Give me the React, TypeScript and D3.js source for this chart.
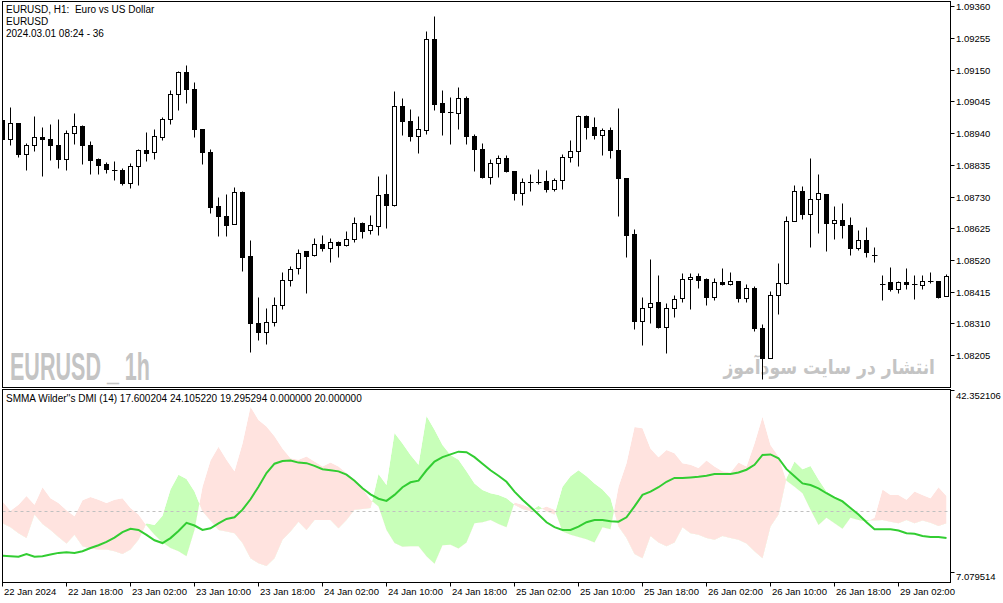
import { useEffect } from 'react';
import * as d3 from 'd3';

// EURUSD H1 candles, 22 Jan 10:00 .. 29 Jan 08:00
const opens = [
  1.08982, 1.08921, 1.08975, 1.08872, 1.08901, 1.08928, 1.08921, 1.08901, 1.08855, 1.08941,
  1.08964, 1.08901, 1.08854, 1.08839, 1.08819, 1.08819, 1.08776, 1.08832, 1.08885, 1.08878,
  1.08928, 1.08987, 1.09070, 1.09143, 1.09087, 1.08954, 1.08878, 1.08700, 1.08666, 1.08640,
  1.08746, 1.08532, 1.08312, 1.08281, 1.08314, 1.08372, 1.08455, 1.08494, 1.08551, 1.08536,
  1.08574, 1.08561, 1.08580, 1.08570, 1.08590, 1.08643, 1.08620, 1.08633, 1.08739, 1.08703,
  1.09030, 1.08981, 1.08931, 1.08951, 1.09252, 1.09040, 1.09011, 1.09007, 1.09057, 1.08930,
  1.08888, 1.08795, 1.08842, 1.08858, 1.08815, 1.08741, 1.08778, 1.08778, 1.08782, 1.08756,
  1.08786, 1.08862, 1.08882, 1.08997, 1.08961, 1.08934, 1.08951, 1.08885, 1.08792, 1.08605,
  1.08318, 1.08364, 1.08382, 1.08298, 1.08361, 1.08394, 1.08457, 1.08468, 1.08456, 1.08399,
  1.08446, 1.08440, 1.08451, 1.08394, 1.08428, 1.08296, 1.08196, 1.08405, 1.08443, 1.08650,
  1.08749, 1.08672, 1.08723, 1.08740, 1.08643, 1.08651, 1.08637, 1.08559, 1.08585, 1.08537,
  1.08440, 1.08448, 1.08425, 1.08448, 1.08441, 1.08438, 1.08451, 1.08451, 1.08402,
];
const highs = [
  1.08985, 1.09027, 1.08975, 1.08908, 1.08998, 1.08959, 1.08969, 1.08988, 1.08949, 1.09005,
  1.08968, 1.08915, 1.08858, 1.08845, 1.08848, 1.08825, 1.08842, 1.08888, 1.08945, 1.08955,
  1.08992, 1.09083, 1.09146, 1.09167, 1.09110, 1.08954, 1.08886, 1.08727, 1.08737, 1.08763,
  1.08748, 1.08585, 1.08399, 1.08360, 1.08396, 1.08482, 1.08501, 1.08558, 1.08551, 1.08594,
  1.08604, 1.08594, 1.08584, 1.08617, 1.08663, 1.08647, 1.08670, 1.08799, 1.08805, 1.09080,
  1.09055, 1.09021, 1.08998, 1.09279, 1.09329, 1.09082, 1.09060, 1.09093, 1.09064, 1.08938,
  1.08908, 1.08855, 1.08868, 1.08868, 1.08816, 1.08792, 1.08806, 1.08822, 1.08819, 1.08792,
  1.08872, 1.08918, 1.09001, 1.09001, 1.08992, 1.08958, 1.08961, 1.09024, 1.08793, 1.08621,
  1.08399, 1.08522, 1.08469, 1.08378, 1.08405, 1.08478, 1.08478, 1.08478, 1.08462, 1.08462,
  1.08492, 1.08479, 1.08451, 1.08440, 1.08435, 1.08308, 1.08418, 1.08510, 1.08666, 1.08767,
  1.08764, 1.08859, 1.08806, 1.08740, 1.08700, 1.08710, 1.08662, 1.08620, 1.08628, 1.08564,
  1.08471, 1.08496, 1.08451, 1.08492, 1.08471, 1.08470, 1.08481, 1.08451, 1.08475,
];
const lows = [
  1.08916, 1.08900, 1.08860, 1.08817, 1.08882, 1.08797, 1.08850, 1.08824, 1.08817, 1.08905,
  1.08837, 1.08804, 1.08804, 1.08809, 1.08784, 1.08769, 1.08759, 1.08768, 1.08847, 1.08855,
  1.08918, 1.08971, 1.09016, 1.09040, 1.08927, 1.08837, 1.08675, 1.08601, 1.08601, 1.08638,
  1.08483, 1.08215, 1.08255, 1.08241, 1.08301, 1.08357, 1.08433, 1.08473, 1.08410, 1.08533,
  1.08549, 1.08513, 1.08529, 1.08567, 1.08580, 1.08592, 1.08607, 1.08602, 1.08625, 1.08698,
  1.08933, 1.08913, 1.08874, 1.08936, 1.09017, 1.08933, 1.08903, 1.08953, 1.08903, 1.08814,
  1.08791, 1.08772, 1.08795, 1.08811, 1.08720, 1.08701, 1.08747, 1.08771, 1.08745, 1.08748,
  1.08754, 1.08844, 1.08831, 1.08921, 1.08921, 1.08868, 1.08858, 1.08665, 1.08529, 1.08291,
  1.08238, 1.08311, 1.08294, 1.08212, 1.08331, 1.08380, 1.08357, 1.08427, 1.08372, 1.08388,
  1.08438, 1.08437, 1.08380, 1.08380, 1.08284, 1.08127, 1.08195, 1.08342, 1.08442, 1.08648,
  1.08655, 1.08562, 1.08609, 1.08549, 1.08590, 1.08592, 1.08536, 1.08553, 1.08529, 1.08513,
  1.08388, 1.08418, 1.08412, 1.08425, 1.08392, 1.08425, 1.08445, 1.08395, 1.08401,
];
const closes = [
  1.08919, 1.08974, 1.08872, 1.08901, 1.08928, 1.08921, 1.08901, 1.08855, 1.08941, 1.08964,
  1.08901, 1.08852, 1.08835, 1.08822, 1.08818, 1.08776, 1.08832, 1.08885, 1.08875, 1.08931,
  1.08987, 1.09070, 1.09143, 1.09087, 1.08954, 1.08877, 1.08695, 1.08665, 1.08635, 1.08746,
  1.08529, 1.08311, 1.08281, 1.08316, 1.08372, 1.08455, 1.08491, 1.08544, 1.08533, 1.08574,
  1.08559, 1.08580, 1.08570, 1.08590, 1.08643, 1.08617, 1.08637, 1.08736, 1.08701, 1.09030,
  1.08979, 1.08930, 1.08954, 1.09252, 1.09037, 1.09011, 1.09007, 1.09057, 1.08931, 1.08888,
  1.08794, 1.08842, 1.08859, 1.08814, 1.08741, 1.08779, 1.08779, 1.08774, 1.08756, 1.08786,
  1.08862, 1.08882, 1.08997, 1.08961, 1.08934, 1.08951, 1.08884, 1.08792, 1.08602, 1.08318,
  1.08362, 1.08378, 1.08298, 1.08362, 1.08392, 1.08458, 1.08465, 1.08455, 1.08399, 1.08446,
  1.08440, 1.08451, 1.08394, 1.08428, 1.08296, 1.08196, 1.08405, 1.08443, 1.08650, 1.08749,
  1.08672, 1.08723, 1.08743, 1.08643, 1.08651, 1.08635, 1.08559, 1.08585, 1.08546, 1.08534,
  1.08441, 1.08423, 1.08448, 1.08441, 1.08441, 1.08451, 1.08447, 1.08398, 1.08466,
];

// Wilder's DMI (14)
const adx = [
  11.9, 11.8, 11.7, 12.2, 11.7, 11.8, 12.1, 12.4, 12.5, 12.4,
  12.7, 13.3, 13.8, 14.4, 15.2, 16.2, 16.8, 16.6, 15.7, 14.7,
  14.2, 15.1, 16.4, 17.9, 17.4, 16.6, 16.9, 17.8, 18.6, 18.9,
  20.3, 22.2, 24.5, 27.0, 28.7, 29.2, 29.3, 28.9, 28.8, 28.3,
  27.7, 27.5, 27.3, 26.7, 25.6, 24.2, 23.1, 22.3, 21.9, 23.0,
  24.4, 25.3, 25.6, 27.5, 29.1, 29.9, 30.4, 30.9, 30.8, 29.9,
  28.7, 27.5, 26.5, 25.4, 23.6, 22.1, 20.8, 19.4, 18.0, 17.1,
  16.6, 16.6, 17.2, 18.0, 18.4, 18.4, 18.2, 18.1, 18.9, 20.9,
  23.0, 23.6, 24.4, 25.4, 26.1, 26.1, 26.2, 26.3, 26.5, 26.8,
  26.8, 26.8, 27.1, 27.6, 28.5, 30.3, 30.4, 29.7, 27.7, 26.4,
  25.1, 24.8, 24.2, 23.3, 22.5, 21.8, 20.6, 19.4, 18.0, 16.7,
  16.7, 16.7, 16.5, 16.0, 15.9, 15.5, 15.3, 15.3, 15.1,
];
const plusDI = [
  17.8, 17.1, 16.0, 15.1, 19.4, 17.7, 16.6, 15.3, 14.1, 15.7,
  13.6, 13.2, 13.0, 13.0, 12.7, 12.2, 13.0, 14.8, 17.8, 17.5,
  19.2, 24.0, 26.7, 25.9, 23.6, 20.0, 18.3, 16.6, 16.3, 16.0,
  14.2, 11.4, 10.5, 10.0, 11.4, 14.8, 16.3, 18.1, 16.6, 18.4,
  18.4, 18.4, 16.9, 18.4, 20.3, 20.4, 20.6, 26.8, 24.8, 34.3,
  32.4, 30.3, 28.5, 37.4, 34.9, 32.1, 30.3, 29.4, 27.3, 25.1,
  23.9, 23.3, 23.0, 22.4, 21.2, 20.4, 20.0, 21.0, 20.0, 19.4,
  24.5, 26.4, 27.5, 26.4, 25.1, 24.0, 22.4, 17.2, 15.1, 12.2,
  11.4, 15.5, 14.3, 13.6, 14.3, 17.1, 16.0, 15.7, 15.1, 14.8,
  15.5, 15.1, 14.8, 14.1, 12.7, 11.4, 17.2, 19.4, 26.1, 29.1,
  27.7, 28.3, 25.8, 23.6, 22.7, 22.1, 20.6, 19.4, 18.4, 18.3,
  18.4, 18.1, 17.8, 18.4, 17.8, 18.3, 17.9, 17.3, 17.8,
];
const minusDI = [
  21.8, 20.1, 21.2, 22.8, 21.2, 24.4, 22.4, 21.5, 20.2, 19.1,
  22.0, 22.6, 22.1, 21.5, 22.1, 22.4, 20.6, 19.4, 17.4, 15.7,
  14.3, 13.3, 12.7, 11.8, 16.6, 24.5, 29.3, 31.8, 29.4, 27.3,
  32.4, 39.1, 36.7, 35.5, 33.7, 31.5, 29.7, 29.4, 30.0, 29.1,
  28.2, 28.9, 28.2, 27.0, 25.8, 24.2, 22.1, 20.9, 16.6, 14.2,
  13.5, 13.6, 13.6, 11.8, 10.4, 13.8, 13.9, 13.2, 14.3, 17.8,
  18.0, 18.4, 17.7, 17.1, 21.6, 21.2, 20.6, 20.3, 20.9, 20.3,
  16.3, 15.7, 15.3, 14.9, 14.3, 17.1, 16.7, 24.5, 28.8, 35.4,
  35.2, 31.5, 29.9, 31.2, 30.6, 28.8, 28.5, 27.9, 29.3, 28.2,
  27.3, 27.1, 28.9, 28.2, 32.4, 37.3, 32.1, 30.0, 25.6, 24.5,
  23.3, 20.3, 17.5, 18.8, 17.8, 16.8, 18.8, 18.4, 18.1, 18.8,
  24.0, 23.0, 23.0, 22.1, 23.6, 23.0, 22.4, 24.4, 22.8,
];
const adxLevel = 20;

const priceTicks = [
  1.0936, 1.09255, 1.0915, 1.09045, 1.0894, 1.08835,
  1.0873, 1.08625, 1.0852, 1.08415, 1.0831, 1.08205,
];
const subMax = 42.352106;
const subMin = 7.079514;

// one label every 8 bars, starting at bar 0
const timeLabels = [
  '22 Jan 2024', '22 Jan 18:00', '23 Jan 02:00', '23 Jan 10:00', '23 Jan 18:00',
  '24 Jan 02:00', '24 Jan 10:00', '24 Jan 18:00', '25 Jan 02:00', '25 Jan 10:00',
  '25 Jan 18:00', '26 Jan 02:00', '26 Jan 10:00', '26 Jan 18:00', '29 Jan 02:00',
];
const LABEL_EVERY = 8;
const BAR_STEP = 8;

const FONT = '"Liberation Sans", Arial, sans-serif';

export default function App() {
  useEffect(() => {
    document.body.style.margin = '0';
    document.body.style.overflow = 'hidden';
  }, []);

  const n = opens.length;
  const idx = d3.range(n);
  const left = 2.5;
  const right = 950.5;
  const mainTop = 1.5;
  const mainBottom = 387.5;
  const subTop = 389.5;
  const subBottom = 582.5;

  const x = d3.scaleLinear().domain([0, n - 1]).range([2.5, 2.5 + BAR_STEP * (n - 1)]);
  const yMain = d3.scaleLinear()
    .domain([priceTicks[priceTicks.length - 1], priceTicks[0]])
    .range([355.7, 6.7]);
  const ySub = d3.scaleLinear().domain([subMin, subMax]).range([582, 389]);
  const snap = (v: number) => Math.round(v - 0.5) + 0.5;

  // band between +DI and -DI, split in two colours by clipping under each line
  const band = d3.area<number>()
    .x(i => x(i)).y0(i => ySub(minusDI[i])).y1(i => ySub(plusDI[i]))(idx) || '';
  const belowPlus = d3.area<number>()
    .x(i => x(i)).y0(600).y1(i => ySub(plusDI[i]))(idx) || '';
  const belowMinus = d3.area<number>()
    .x(i => x(i)).y0(600).y1(i => ySub(minusDI[i]))(idx) || '';
  const adxPath = d3.line<number>().x(i => x(i)).y(i => ySub(adx[i]))(idx) || '';

  return (
    <svg width={1003} height={603} style={{ position: 'absolute', left: 0, top: 0, background: '#fff' }}
      fontFamily={FONT}>
      <defs>
        <clipPath id="mainClip"><rect x={3} y={2} width={947} height={385} /></clipPath>
        <clipPath id="subClip"><rect x={3} y={390} width={947} height={192} /></clipPath>
        <clipPath id="plusClip"><path d={belowPlus} /></clipPath>
        <clipPath id="minusClip"><path d={belowMinus} /></clipPath>
      </defs>
      <rect width={1003} height={603} fill="#fff" />

      {/* watermarks */}
      <text x={10} y={380} fontSize={39} fontWeight="bold" fill="#c4c4c4"
        textLength={140} lengthAdjust="spacingAndGlyphs">EURUSD _ 1h</text>
      <g transform="translate(935,374) scale(0.86,1)">
        <text x={0} y={0} fontSize={20} fontWeight="bold" fill="#c4c4c4" textAnchor="end"
          fontFamily='"DejaVu Sans", sans-serif'>انتشار در سایت سودآموز</text>
      </g>

      {/* candles */}
      <g clipPath="url(#mainClip)">
        {idx.map(i => {
          const cx = x(i);
          const o = opens[i], c = closes[i];
          const yo = yMain(o), yc = yMain(c);
          const top = snap(Math.min(yo, yc));
          const bot = snap(Math.max(yo, yc));
          const bull = c >= o;
          return (
            <g key={i}>
              <line x1={cx} x2={cx} y1={snap(yMain(highs[i]))} y2={snap(yMain(lows[i]))}
                stroke="#000" strokeWidth={1} />
              {bot - top < 1.5 ? (
                <line x1={cx - 2.5} x2={cx + 3} y1={top} y2={top} stroke="#000" strokeWidth={1} />
              ) : (
                <rect x={cx - 2} y={top} width={4} height={bot - top}
                  fill={bull ? '#fff' : '#000'} stroke="#000" strokeWidth={1} />
              )}
            </g>
          );
        })}
      </g>

      {/* DMI window */}
      <g clipPath="url(#subClip)">
        <g clipPath="url(#plusClip)"><path d={band} fill="#c8ffb9" /></g>
        <g clipPath="url(#minusClip)"><path d={band} fill="#ffe3df" /></g>
        <line x1={left} x2={right} y1={snap(ySub(adxLevel))} y2={snap(ySub(adxLevel))}
          stroke="#c0c0c0" strokeDasharray="3,3" />
        <path d={adxPath} fill="none" stroke="#32cd32" strokeWidth={2} />
      </g>

      {/* frames */}
      <rect x={left} y={mainTop} width={right - left} height={mainBottom - mainTop}
        fill="none" stroke="#000" />
      <rect x={left} y={subTop} width={right - left} height={subBottom - subTop}
        fill="none" stroke="#000" />

      {/* header texts */}
      <g fontSize={10} fill="#000">
        <text x={6} y={13} xmlSpace="preserve">EURUSD, H1:  Euro vs US Dollar</text>
        <text x={6} y={25}>EURUSD</text>
        <text x={6} y={37}>2024.03.01 08:24 - 36</text>
        <text x={6} y={402}>SMMA Wilder''s DMI (14) 17.600204 24.105220 19.295294 0.000000 20.000000</text>
      </g>

      {/* price axis */}
      <g fontSize={9.5} fill="#000">
        {priceTicks.map(t => {
          const y = snap(yMain(t));
          return (
            <g key={t}>
              <line x1={right} x2={right + 4} y1={y} y2={y} stroke="#000" />
              <text x={956} y={y + 3.5}>{t.toFixed(5)}</text>
            </g>
          );
        })}
        <line x1={right} x2={right + 4} y1={390.5} y2={390.5} stroke="#000" />
        <text x={956} y={398.5}>{subMax.toFixed(6)}</text>
        <line x1={right} x2={right + 4} y1={572.5} y2={572.5} stroke="#000" />
        <text x={956} y={580}>{subMin.toFixed(6)}</text>
      </g>

      {/* time axis */}
      <g fontSize={9.5} fill="#000">
        {timeLabels.map((label, k) => {
          const tx = x(k * LABEL_EVERY);
          return (
            <g key={label}>
              <line x1={tx} x2={tx} y1={subBottom} y2={subBottom + 4} stroke="#000" />
              <text x={tx + 1.5} y={595}>{label}</text>
            </g>
          );
        })}
      </g>
    </svg>
  );
}
